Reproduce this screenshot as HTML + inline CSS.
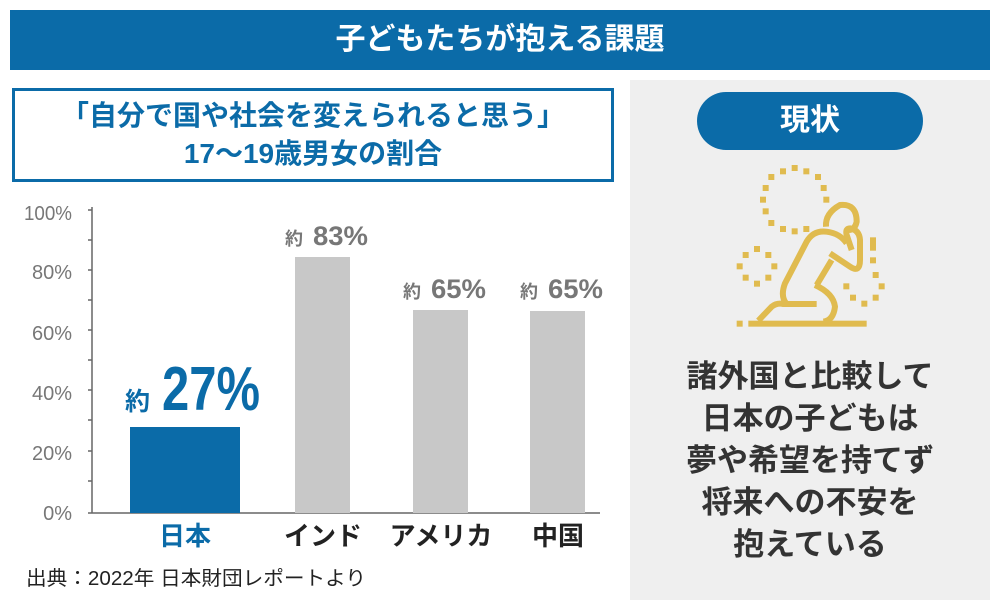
<!DOCTYPE html>
<html><head><meta charset="utf-8"><style>
body{margin:0;width:1000px;height:610px;background:#fff;position:relative;overflow:hidden;font-family:"Liberation Sans","Noto Sans CJK JP",sans-serif}
.a{position:absolute}
</style></head><body>
<div class="a" style="left:10px;top:10px;width:980px;height:60px;background:#0b6ba8;color:#fff;font-weight:bold;font-size:30px;line-height:60px;text-align:center">子どもたちが抱える課題</div>
<div class="a" style="left:630px;top:80px;width:360px;height:520px;background:#efefef"></div>
<div class="a" style="left:697px;top:92px;width:226px;height:58px;border-radius:29px;background:#0b6ba8;color:#fff;font-weight:bold;font-size:30px;line-height:58px;text-align:center">現状</div>
<svg class="a" style="left:700px;top:150px" width="200" height="190" viewBox="0 0 600 570">
<g fill="#e0bb4f">
<rect x="240" y="55" width="18" height="18"/><rect x="275" y="45" width="18" height="18"/><rect x="310" y="55" width="18" height="18"/><rect x="345" y="72" width="18" height="18"/><rect x="362" y="105" width="18" height="18"/><rect x="370" y="140" width="18" height="18"/>
<rect x="205" y="72" width="18" height="18"/><rect x="188" y="105" width="18" height="18"/><rect x="180" y="140" width="18" height="18"/><rect x="188" y="175" width="18" height="18"/><rect x="205" y="210" width="18" height="18"/><rect x="240" y="228" width="18" height="18"/><rect x="275" y="235" width="18" height="18"/><rect x="310" y="228" width="18" height="18"/>
<rect x="162" y="288" width="18" height="18"/><rect x="128" y="306" width="18" height="18"/><rect x="196" y="306" width="18" height="18"/><rect x="110" y="340" width="18" height="18"/><rect x="214" y="340" width="18" height="18"/><rect x="128" y="374" width="18" height="18"/><rect x="196" y="374" width="18" height="18"/><rect x="162" y="392" width="18" height="18"/>
<rect x="510" y="262" width="18" height="40"/><rect x="510" y="322" width="18" height="18"/><rect x="518" y="366" width="18" height="18"/><rect x="536" y="400" width="18" height="18"/><rect x="518" y="434" width="18" height="18"/><rect x="484" y="452" width="18" height="18"/><rect x="450" y="434" width="18" height="18"/><rect x="430" y="400" width="18" height="18"/>
<rect x="110" y="512" width="18" height="18"/><rect x="145" y="512" width="355" height="18"/>
</g>
<g fill="none" stroke="#e0bb4f" stroke-width="18" stroke-linejoin="round">
<path d="M175 512 L215 470 Q230 458 250 462 L350 462"/>
<path d="M260 462 Q240 440 255 400 L320 275 Q340 240 380 245 Q420 250 440 280"/>
<path d="M390 310 L450 350 Q480 370 480 330 L480 270 Q478 240 450 235 Q435 235 440 255 L455 300"/>
<path d="M350 405 L395 330"/>
<path d="M345 405 Q400 430 405 470 Q400 512 370 515"/>
<path d="M378 230 Q375 190 420 165 Q470 160 470 215 Q465 240 445 240"/>
</g>
</svg>
<div class="a" style="left:630px;top:356px;width:360px;color:#333;font-weight:bold;font-size:31px;line-height:42px;text-align:center">諸外国と比較して<br>日本の子どもは<br>夢や希望を持てず<br>将来への不安を<br>抱えている</div>
<div class="a" style="left:12px;top:88px;border:3px solid #0b6ba8;color:#0b6ba8;font-weight:bold;font-size:28px;line-height:38px;text-align:center;padding-top:6px;box-sizing:border-box;width:602px;height:94px;white-space:nowrap">「自分で国や社会を変えられると思う」<br>17〜19歳男女の割合</div>
<svg class="a" style="left:0;top:190px" width="630" height="410">
<g font-family="Liberation Sans,sans-serif" font-size="20" fill="#777" text-anchor="end">
<text x="72" y="30" textLength="48" lengthAdjust="spacingAndGlyphs">100%</text><text x="72" y="89">80%</text><text x="72" y="150">60%</text><text x="72" y="210">40%</text><text x="72" y="270">20%</text><text x="72" y="330">0%</text>
</g>
<g stroke="#666" stroke-width="1.5">
<line x1="92" y1="17" x2="92" y2="323"/><line x1="88" y1="323" x2="600" y2="323"/>
<line x1="88" y1="20" x2="92" y2="20"/><line x1="88" y1="50" x2="92" y2="50"/><line x1="88" y1="80" x2="92" y2="80"/><line x1="88" y1="110" x2="92" y2="110"/><line x1="88" y1="140" x2="92" y2="140"/><line x1="88" y1="170" x2="92" y2="170"/><line x1="88" y1="200" x2="92" y2="200"/><line x1="88" y1="230" x2="92" y2="230"/><line x1="88" y1="261" x2="92" y2="261"/><line x1="88" y1="291" x2="92" y2="291"/>
</g>
<rect x="130" y="237" width="110" height="86" fill="#0b6ba8"/>
<rect x="295" y="67" width="55" height="256" fill="#c8c8c8"/>
<rect x="413" y="120" width="55" height="203" fill="#c8c8c8"/>
<rect x="530" y="121" width="55" height="202" fill="#c8c8c8"/>
<g font-weight="bold" font-family="Liberation Sans,Noto Sans CJK JP,sans-serif">
<text x="125" y="220" fill="#0b6ba8" font-size="25">約</text>
<text x="162" y="220" fill="#0b6ba8" font-size="62" textLength="98" lengthAdjust="spacingAndGlyphs">27%</text>
<g fill="#777" font-size="18"><text x="285" y="55">約</text><text x="403" y="108">約</text><text x="520" y="108">約</text></g>
<g fill="#777" font-size="27"><text x="313" y="55" textLength="55" lengthAdjust="spacingAndGlyphs">83%</text><text x="431" y="108" textLength="55" lengthAdjust="spacingAndGlyphs">65%</text><text x="548" y="108" textLength="55" lengthAdjust="spacingAndGlyphs">65%</text></g>
<g text-anchor="middle" font-size="26">
<text x="185" y="355" fill="#0b6ba8">日本</text>
<text x="323" y="355" fill="#222">インド</text>
<text x="441" y="355" fill="#222">アメリカ</text>
<text x="558" y="355" fill="#222">中国</text>
</g></g>
<text x="26" y="395" font-size="20" fill="#222" font-family="Liberation Sans,Noto Sans CJK JP,sans-serif" textLength="340" lengthAdjust="spacingAndGlyphs">出典：2022年 日本財団レポートより</text>
</svg>
</body></html>
